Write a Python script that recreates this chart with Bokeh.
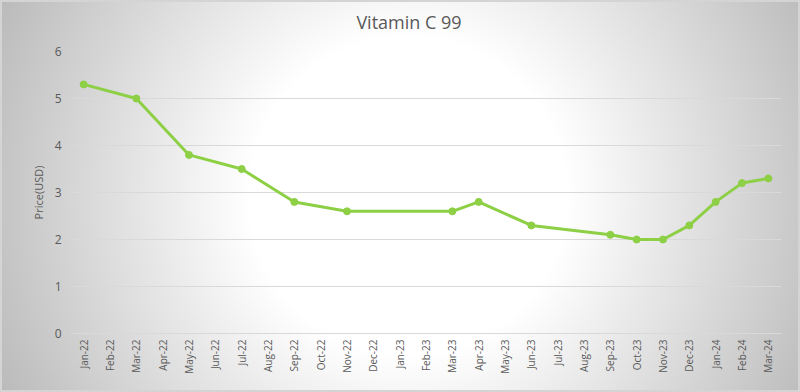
from bokeh.plotting import figure
from bokeh.models import FactorRange, Range1d, FixedTicker, Div
from bokeh.layouts import column
from bokeh.embed import file_html
from bokeh.resources import INLINE

months = ["Jan-22", "Feb-22", "Mar-22", "Apr-22", "May-22", "Jun-22", "Jul-22", "Aug-22",
          "Sep-22", "Oct-22", "Nov-22", "Dec-22", "Jan-23", "Feb-23", "Mar-23", "Apr-23",
          "May-23", "Jun-23", "Jul-23", "Aug-23", "Sep-23", "Oct-23", "Nov-23", "Dec-23",
          "Jan-24", "Feb-24", "Mar-24"]
point_months = ["Jan-22", "Mar-22", "May-22", "Jul-22", "Sep-22", "Nov-22", "Mar-23", "Apr-23",
                "Jun-23", "Sep-23", "Oct-23", "Nov-23", "Dec-23", "Jan-24", "Feb-24", "Mar-24"]
prices = [5.3, 5.0, 3.8, 3.5, 2.8, 2.6, 2.6, 2.8, 2.3, 2.1, 2.0, 2.0, 2.3, 2.8, 3.2, 3.3]
y_ticks = [0, 1, 2, 3, 4, 5, 6]
title_text = "Vitamin C 99"

FONT = "Open Sans"
GRAY = "#595959"
GREEN = "#8DCF45"

title = Div(text=('<div style="width:800px;box-sizing:border-box;padding-left:18px;'
                  'text-align:center;font-family:\'Open Sans\';font-size:18px;'
                  'color:#595959;line-height:44px;">' + title_text + '</div>'),
            width=800, height=40, margin=0)

p = figure(width=800, height=352, output_backend="svg", toolbar_location=None,
           x_range=FactorRange(*months, range_padding=0), y_range=Range1d(0, 6),
           margin=0)
p.min_border_left = 70
p.min_border_right = 19
p.min_border_top = 11
p.min_border_bottom = 59

p.border_fill_color = None
p.background_fill_color = None
p.outline_line_color = None

p.line(point_months, prices, line_color=GREEN, line_width=3)
p.scatter(point_months, prices, size=7, fill_color=GREEN, line_color=GREEN)

p.yaxis.ticker = FixedTicker(ticks=y_ticks)
p.yaxis.axis_label = "Price(USD)"
p.yaxis.axis_label_text_font = FONT
p.yaxis.axis_label_text_font_size = "11px"
p.yaxis.axis_label_text_font_style = "normal"
p.yaxis.axis_label_text_color = GRAY
p.yaxis.axis_label_standoff = 6
p.yaxis.axis_line_color = None
p.yaxis.major_tick_line_color = None
p.yaxis.major_tick_out = 0
p.yaxis.major_tick_in = 0
p.yaxis.minor_tick_line_color = None
p.yaxis.major_label_text_font = FONT
p.yaxis.major_label_text_font_size = "12px"
p.yaxis.major_label_text_color = GRAY
p.yaxis.major_label_standoff = 9

p.xaxis.axis_line_color = "#d9d9d9"
p.xaxis.major_tick_line_color = None
p.xaxis.major_tick_out = 0
p.xaxis.major_tick_in = 0
p.xaxis.major_label_orientation = 1.5708
p.xaxis.major_label_text_font = FONT
p.xaxis.major_label_text_font_size = "10px"
p.xaxis.major_label_text_color = GRAY
p.xaxis.major_label_standoff = 6

p.xgrid.grid_line_color = None
p.ygrid.grid_line_color = "#d9d9d9"
p.ygrid.grid_line_width = 1

layout = column(title, p, spacing=0, width=800, height=392)
layout.styles = {"background": "radial-gradient(circle farthest-corner at 51% 50%, #ffffff 0%, #ffffff 35%, #bababa 100%)",
                 "box-shadow": "inset 0 0 0 2px #d4d4d4"}

open("out.html", "w").write(file_html(layout, INLINE))
